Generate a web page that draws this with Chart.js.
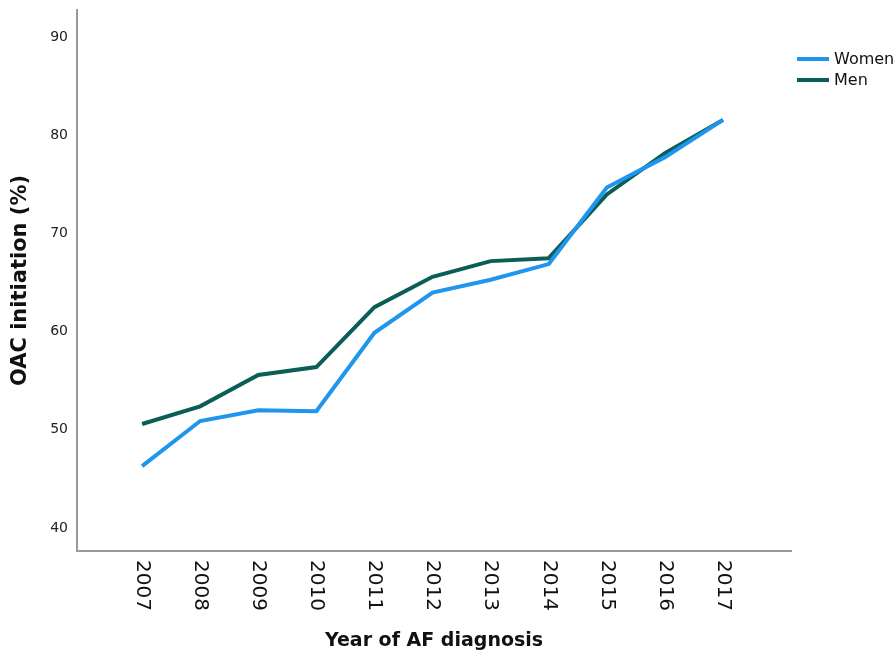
<!DOCTYPE html>
<html>
<head>
<meta charset="utf-8">
<script src="https://cdn.jsdelivr.net/npm/chart.js@4/dist/chart.umd.min.js"></script>
<style>
  html, body { margin: 0; padding: 0; background: #fff; }
  #wrap { width: 896px; height: 656px; }
</style>
</head>
<body>
<div id="wrap"><canvas id="c" width="896" height="656"></canvas></div>
<script>
const years = [2007, 2008, 2009, 2010, 2011, 2012, 2013, 2014, 2015, 2016, 2017];
const women = [46.3, 50.9, 52.0, 51.9, 59.9, 64.0, 65.3, 66.9, 74.7, 77.8, 81.6];
const men   = [50.6, 52.4, 55.6, 56.4, 62.5, 65.6, 67.2, 67.5, 74.0, 78.2, 81.6];
const yTicks = [40, 50, 60, 70, 80, 90];
const seriesNames = ['Women', 'Men'];
const seriesColors = ['#1E96EE', '#0A5E56'];

const toPoints = (vals) => years.map((y, i) => ({ x: y, y: vals[i] }));

const rotatedXLabels = {
  id: 'rotatedXLabels',
  afterDraw(chart) {
    const ctx = chart.ctx;
    const xs = chart.scales.x;
    const yTop = chart.chartArea.bottom + 9;
    ctx.save();
    ctx.fillStyle = '#111';
    ctx.font = '20px "DejaVu Sans"';
    ctx.textAlign = 'left';
    ctx.textBaseline = 'middle';
    years.forEach((yr) => {
      const px = xs.getPixelForValue(yr);
      ctx.save();
      ctx.translate(px, yTop);
      ctx.rotate(Math.PI / 2);
      ctx.fillText(String(yr), 0, 0);
      ctx.restore();
    });
    ctx.restore();
  }
};

const customLegend = {
  id: 'customLegend',
  afterDraw(chart) {
    const ctx = chart.ctx;
    const x0 = chart.chartArea.right + 6;
    const rows = [59, 80];
    ctx.save();
    ctx.font = '16px "DejaVu Sans"';
    ctx.textBaseline = 'middle';
    ctx.textAlign = 'left';
    seriesNames.forEach((name, i) => {
      ctx.strokeStyle = seriesColors[i];
      ctx.lineWidth = 4;
      ctx.beginPath();
      ctx.moveTo(x0, rows[i]);
      ctx.lineTo(x0 + 32, rows[i]);
      ctx.stroke();
      ctx.fillStyle = '#111';
      ctx.fillText(name, x0 + 37, rows[i] + 1);
    });
    ctx.restore();
  }
};

new Chart(document.getElementById('c'), {
  type: 'line',
  data: {
    datasets: seriesNames.map((name, i) => ({
      label: name,
      data: toPoints(i === 0 ? women : men),
      borderColor: seriesColors[i],
      backgroundColor: seriesColors[i],
      borderWidth: 4,
      pointRadius: 0,
      tension: 0,
      fill: false
    }))
  },
  options: {
    responsive: false,
    animation: false,
    layout: { padding: { top: 10, right: 105, bottom: 0, left: 0 } },
    plugins: { legend: { display: false }, tooltip: { enabled: false } },
    scales: {
      x: {
        type: 'linear',
        min: 2005.88,
        max: 2018.17,
        afterBuildTicks: (s) => { s.ticks = years.map(v => ({ value: v })); },
        afterFit: (s) => { s.height = 105; s.paddingLeft = 0; s.paddingRight = 0; },
        grid: { display: false, drawTicks: false },
        border: { display: true, color: '#9a9a9a', width: 2 },
        ticks: {
          color: 'rgba(0,0,0,0)',
          font: { family: 'DejaVu Sans', size: 20 },
          minRotation: 90, maxRotation: 90,
          padding: 9,
          callback: (v) => String(v)
        },
        title: {
          display: true,
          text: 'Year of AF diagnosis',
          color: '#111',
          font: { family: 'DejaVu Sans', size: 19, weight: 'bold' },
          padding: { top: 0, bottom: 4 }
        }
      },
      y: {
        type: 'linear',
        min: 37.65,
        max: 92.8,
        afterBuildTicks: (s) => { s.ticks = yTicks.map(v => ({ value: v })); },
        afterFit: (s) => { s.width = 77; s.paddingTop = 0; s.paddingBottom = 0; },
        grid: { display: false, drawTicks: false },
        border: { display: true, color: '#9a9a9a', width: 2 },
        ticks: {
          color: '#222',
          font: { family: 'DejaVu Sans', size: 14 },
          padding: 9
        },
        title: {
          display: true,
          text: 'OAC initiation (%)',
          color: '#111',
          font: { family: 'DejaVu Sans', size: 21, weight: 'bold' },
          padding: { top: 8, bottom: 0 }
        }
      }
    }
  },
  plugins: [rotatedXLabels, customLegend]
});
</script>
</body>
</html>
